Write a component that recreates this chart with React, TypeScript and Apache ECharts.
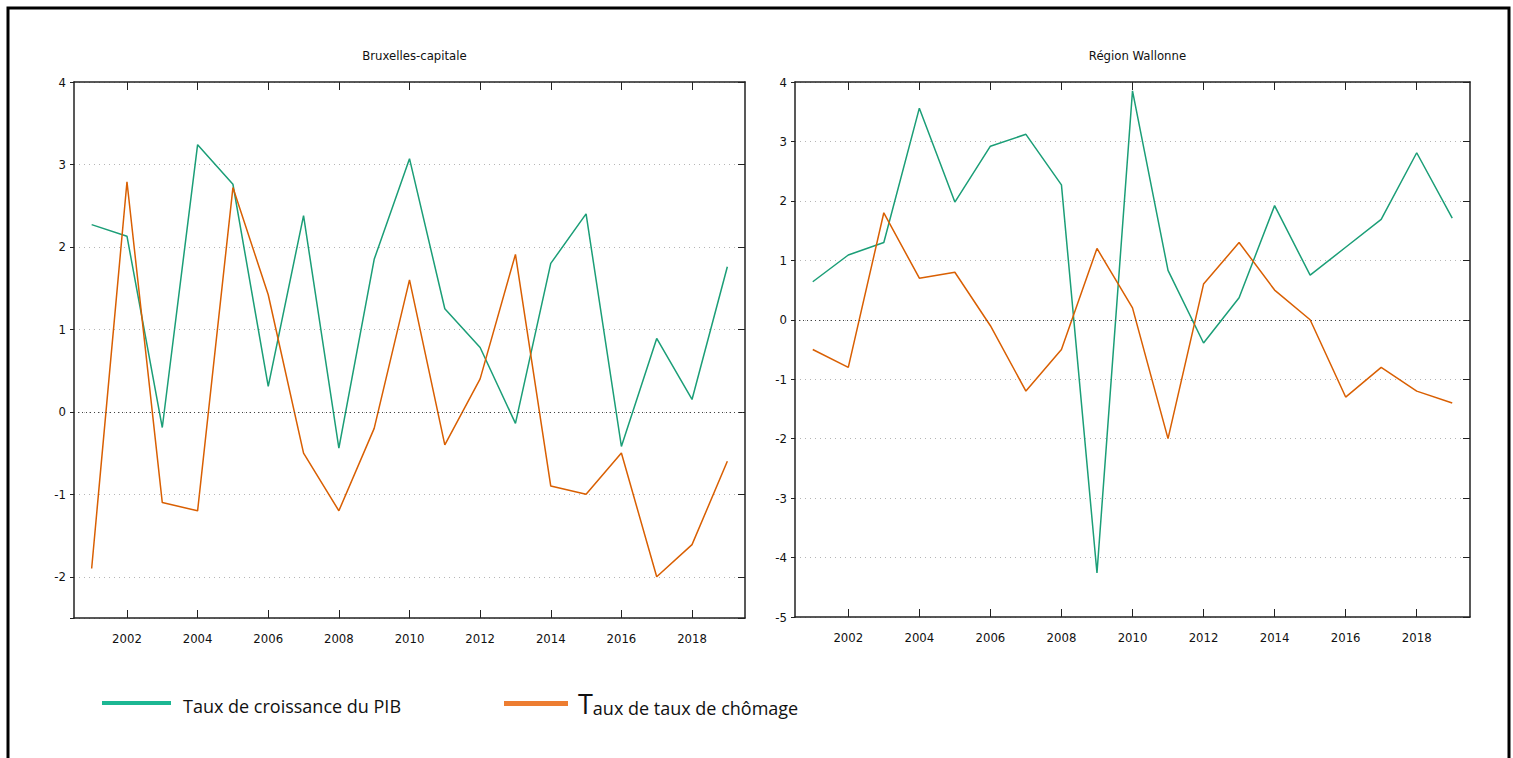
import React, { useEffect, useRef } from "react";
import * as echarts from "echarts";

const years = [2001, 2002, 2003, 2004, 2005, 2006, 2007, 2008, 2009, 2010, 2011, 2012, 2013, 2014, 2015, 2016, 2017, 2018, 2019];
const tickYears = [2002, 2004, 2006, 2008, 2010, 2012, 2014, 2016, 2018];

const bxlPib = [2.27, 2.13, -0.19, 3.24, 2.76, 0.31, 2.38, -0.44, 1.85, 3.07, 1.25, 0.78, -0.14, 1.8, 2.4, -0.42, 0.89, 0.15, 1.76];
const bxlChomage = [-1.9, 2.79, -1.1, -1.2, 2.72, 1.42, -0.5, -1.2, -0.2, 1.6, -0.4, 0.4, 1.91, -0.9, -1.0, -0.5, -2.0, -1.61, -0.6];
const walPib = [0.64, 1.09, 1.3, 3.56, 1.98, 2.92, 3.12, 2.27, -4.26, 3.85, 0.83, -0.39, 0.37, 1.92, 0.75, 1.22, 1.69, 2.81, 1.71];
const walChomage = [-0.5, -0.8, 1.8, 0.7, 0.8, -0.1, -1.2, -0.5, 1.2, 0.2, -2.0, 0.6, 1.3, 0.5, 0.0, -1.3, -0.8, -1.2, -1.4];

const titles = ["Bruxelles-capitale", "Région Wallonne"];
const legendNames = ["Taux de croissance du PIB", "Taux de taux de chômage"];

const GREEN = "#1b9e77";
const ORANGE = "#d95f02";
const AXIS = "#222";
const NARROW = '"DejaVu Sans Condensed", "Liberation Sans Narrow", sans-serif';
const LEGEND_FONT = '"Open Sans", "Noto Sans", sans-serif';

function pairs(vals: number[]) {
  return years.map((y, i) => [y, vals[i]]);
}

export default function App() {
  const ref = useRef<HTMLDivElement>(null);

  useEffect(() => {
    document.body.style.margin = "0";
    const chart = echarts.init(ref.current!, null, { renderer: "svg" });

    const grids = [
      { left: 74, top: 82, width: 671, height: 536 },
      { left: 795, top: 82, width: 675, height: 535 },
    ];
    const yRanges = [
      { min: -2.5, max: 4, splitNumber: 7 },
      { min: -5, max: 4, splitNumber: 9 },
    ];

    const xAxes: any[] = [];
    const yAxes: any[] = [];
    grids.forEach((_, gi) => {
      xAxes.push({
        type: "value",
        gridIndex: gi,
        position: "bottom",
        min: 2000.5,
        max: 2019.5,
        axisLine: { show: true, onZero: false, lineStyle: { color: AXIS, width: 1.5 } },
        axisTick: { show: true, inside: true, length: 8, customValues: tickYears, lineStyle: { color: AXIS } },
        axisLabel: {
          show: true,
          customValues: tickYears,
          formatter: (v: number) => String(v),
          margin: 14,
          fontFamily: NARROW,
          fontSize: 13,
          color: "#111",
        },
        splitLine: { show: false },
      });
      xAxes.push({
        type: "value",
        gridIndex: gi,
        position: "top",
        min: 2000.5,
        max: 2019.5,
        axisLine: { show: true, onZero: false, lineStyle: { color: AXIS, width: 1.5 } },
        axisTick: { show: true, inside: true, length: 8, customValues: tickYears, lineStyle: { color: AXIS } },
        axisLabel: { show: false },
        splitLine: { show: false },
      });
      const r = yRanges[gi];
      yAxes.push({
        type: "value",
        gridIndex: gi,
        position: "left",
        min: r.min,
        max: r.max,
        splitNumber: r.splitNumber,
        axisLine: { show: true, onZero: false, lineStyle: { color: AXIS, width: 1.5 } },
        axisTick: { show: true, inside: false, length: 4, lineStyle: { color: AXIS } },
        axisLabel: {
          show: true,
          margin: 8,
          fontFamily: NARROW,
          fontSize: 13,
          color: "#111",
          formatter: (v: number) => (Number.isInteger(v) ? String(v) : ""),
        },
        splitLine: { show: true, lineStyle: { color: "#b5b5b5", type: [1, 4], width: 1 } },
      });
      yAxes.push({
        type: "value",
        gridIndex: gi,
        position: "right",
        min: r.min,
        max: r.max,
        splitNumber: r.splitNumber,
        axisLine: { show: true, onZero: false, lineStyle: { color: AXIS, width: 1.5 } },
        axisTick: { show: true, inside: true, length: 7, lineStyle: { color: AXIS } },
        axisLabel: { show: false },
        splitLine: { show: false },
      });
    });

    const zeroLine = {
      silent: true,
      symbol: "none",
      label: { show: false },
      lineStyle: { color: "#444", type: [1, 3], width: 1 },
      data: [{ yAxis: 0 }],
    };

    const mkSeries = (name: string, vals: number[], gi: number, color: string, withZero: boolean) => ({
      type: "line",
      name,
      xAxisIndex: gi * 2,
      yAxisIndex: gi * 2,
      data: pairs(vals),
      showSymbol: false,
      symbol: "none",
      lineStyle: { color, width: 1.5 },
      itemStyle: { color },
      markLine: withZero ? zeroLine : undefined,
    });

    chart.setOption({
      animation: false,
      backgroundColor: "#fff",
      title: titles.map((t, i) => ({
        text: t,
        left: grids[i].left + grids[i].width / 2,
        top: 44,
        textAlign: "center",
        textStyle: { fontFamily: NARROW, fontSize: 13, fontWeight: "normal", color: "#111" },
      })),
      grid: grids,
      xAxis: xAxes,
      yAxis: yAxes,
      series: [
        mkSeries(legendNames[0], bxlPib, 0, GREEN, true),
        mkSeries(legendNames[1], bxlChomage, 0, ORANGE, false),
        mkSeries(legendNames[0], walPib, 1, GREEN, true),
        mkSeries(legendNames[1], walChomage, 1, ORANGE, false),
      ],
      graphic: [
        {
          type: "rect",
          shape: { x: 8, y: 8, width: 1501, height: 800 },
          style: { fill: "none", stroke: "#000", lineWidth: 3 },
          silent: true,
        },
        {
          type: "rect",
          shape: { x: 102, y: 701, width: 69, height: 4 },
          style: { fill: "#1cb793" },
        },
        {
          type: "text",
          x: 183,
          y: 706,
          style: {
            text: legendNames[0],
            font: `18px ${LEGEND_FONT}`,
            fill: "#111",
            verticalAlign: "middle",
          },
        },
        {
          type: "rect",
          shape: { x: 504, y: 701, width: 64, height: 5 },
          style: { fill: "#ed7d31" },
        },
        {
          type: "text",
          x: 578,
          y: 717,
          style: {
            text: "{a|T}{b|aux de taux de chômage}",
            verticalAlign: "bottom",
            fill: "#111",
            rich: {
              a: { fontSize: 27, fontFamily: LEGEND_FONT, verticalAlign: "bottom", lineHeight: 31, fill: "#111" },
              b: { fontSize: 18, fontFamily: LEGEND_FONT, verticalAlign: "bottom", lineHeight: 25, fill: "#111" },
            },
          },
        },
      ],
    });

    return () => chart.dispose();
  }, []);

  return <div ref={ref} style={{ width: 1513, height: 758 }} />;
}
